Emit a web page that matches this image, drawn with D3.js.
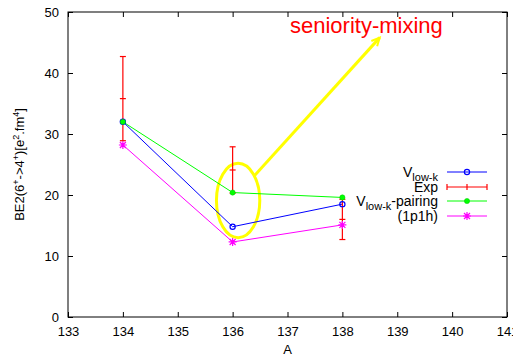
<!DOCTYPE html>
<html>
<head>
<meta charset="utf-8">
<script src="https://d3js.org/d3.v7.min.js"></script>
<style>
  body { margin: 0; background: #fff; }
  text { font-family: "Liberation Sans", Arial, sans-serif; }
</style>
</head>
<body>
<script>
  var W = 513, H = 360;
  var m = {left: 68, right: 6, top: 12, bottom: 43};

  // data
  var A = [134, 136, 138];
  var vlowk = [32.0, 14.8, 18.5];
  var pairing = [32.0, 20.4, 19.6];
  var p1h = [28.2, 12.3, 15.1];
  var expVal = [35.8, 24.1, 16.0];
  var expErr = [6.9, 3.8, 3.3];
  var xTicks = [133, 134, 135, 136, 137, 138, 139, 140, 141];
  var yTicks = [0, 10, 20, 30, 40, 50];

  var svg = d3.select("body").append("svg")
    .attr("width", W).attr("height", H);

  var x = d3.scaleLinear().domain([133, 141]).range([m.left, W - m.right]);
  var y = d3.scaleLinear().domain([0, 50]).range([H - m.bottom, m.top]);

  // ticks (inward on all sides)
  var tl = 5;
  svg.append("g").attr("transform", "translate(0," + y(0) + ")")
    .call(d3.axisBottom(x).tickValues(xTicks).tickSizeInner(-tl).tickSizeOuter(0).tickPadding(10))
    .call(function(g) { g.select(".domain").remove(); });
  svg.append("g").attr("transform", "translate(0," + y(50) + ")")
    .call(d3.axisTop(x).tickValues(xTicks).tickSizeInner(-tl).tickSizeOuter(0).tickFormat(""))
    .call(function(g) { g.select(".domain").remove(); });
  svg.append("g").attr("transform", "translate(" + x(133) + ",0)")
    .call(d3.axisLeft(y).tickValues(yTicks).tickSizeInner(-tl).tickSizeOuter(0).tickPadding(9))
    .call(function(g) { g.select(".domain").remove(); });
  svg.append("g").attr("transform", "translate(" + x(141) + ",0)")
    .call(d3.axisRight(y).tickValues(yTicks).tickSizeInner(-tl).tickSizeOuter(0).tickFormat(""))
    .call(function(g) { g.select(".domain").remove(); });
  svg.selectAll(".tick text").attr("font-size", 13).attr("fill", "#000")
    .style("font-family", "Liberation Sans, Arial, sans-serif");
  svg.selectAll(".tick line").attr("stroke", "#000");

  svg.append("rect")
    .attr("x", x(133)).attr("y", y(50))
    .attr("width", x(141) - x(133)).attr("height", y(0) - y(50))
    .attr("fill", "none").attr("stroke", "#000").attr("stroke-width", 1);

  // axis titles
  svg.append("text").attr("x", (x(133) + x(141)) / 2).attr("y", 354)
    .attr("text-anchor", "middle").attr("font-size", 13).text("A");
  var yl = svg.append("text")
    .attr("transform", "translate(24," + y(25) + ") rotate(-90)")
    .attr("text-anchor", "middle").attr("font-size", 13);
  yl.append("tspan").text("BE2(6");
  yl.append("tspan").attr("dy", -5).attr("font-size", 9).text("+");
  yl.append("tspan").attr("dy", 5).text("->4");
  yl.append("tspan").attr("dy", -5).attr("font-size", 9).text("+");
  yl.append("tspan").attr("dy", 5).text(")[e");
  yl.append("tspan").attr("dy", -5).attr("font-size", 9).text("2");
  yl.append("tspan").attr("dy", 5).text(".fm");
  yl.append("tspan").attr("dy", -5).attr("font-size", 9).text("4");
  yl.append("tspan").attr("dy", 5).text("]");

  function pts(vals) { return A.map(function(a, i) { return [a, vals[i]]; }); }
  var line = d3.line().x(function(d) { return x(d[0]); }).y(function(d) { return y(d[1]); });

  function star(g, cx, cy, r, col) {
    var p = "M" + (cx - r) + "," + cy + "H" + (cx + r) + "M" + cx + "," + (cy - r) + "V" + (cy + r) +
      "M" + (cx - r * 0.75) + "," + (cy - r * 0.75) + "L" + (cx + r * 0.75) + "," + (cy + r * 0.75) +
      "M" + (cx - r * 0.75) + "," + (cy + r * 0.75) + "L" + (cx + r * 0.75) + "," + (cy - r * 0.75);
    g.append("path").attr("d", p).attr("stroke", col).attr("stroke-width", 1.2).attr("fill", "none");
  }

  // yellow annotation
  svg.append("ellipse")
    .attr("cx", x(136.1)).attr("cy", y(19.1))
    .attr("rx", x(136.1) - x(135.705)).attr("ry", y(13.0) - y(19.1))
    .attr("fill", "none").attr("stroke", "#ffff00").attr("stroke-width", 3);
  var ax0 = x(136.4), ay0 = y(23.2), ax1 = x(138.68), ay1 = y(45.8);
  svg.append("line").attr("x1", ax0).attr("y1", ay0).attr("x2", ax1).attr("y2", ay1)
    .attr("stroke", "#ffff00").attr("stroke-width", 3);
  var ang = Math.atan2(ay1 - ay0, ax1 - ax0);
  var hl = 9, hw = 0.45;
  svg.append("path")
    .attr("d", "M" + (ax1 - hl * Math.cos(ang - hw)) + "," + (ay1 - hl * Math.sin(ang - hw)) +
      "L" + ax1 + "," + ay1 + "L" + (ax1 - hl * Math.cos(ang + hw)) + "," + (ay1 - hl * Math.sin(ang + hw)))
    .attr("stroke", "#ffff00").attr("stroke-width", 2).attr("fill", "none");

  svg.append("text").attr("x", 290).attr("y", 33)
    .attr("font-size", 22).attr("fill", "#ff0000").text("seniority-mixing");

  // series lines
  svg.append("path").datum(pts(pairing)).attr("d", line)
    .attr("fill", "none").attr("stroke", "#00ff00").attr("stroke-width", 1);
  svg.append("path").datum(pts(vlowk)).attr("d", line)
    .attr("fill", "none").attr("stroke", "#0000ff").attr("stroke-width", 1);
  svg.append("path").datum(pts(p1h)).attr("d", line)
    .attr("fill", "none").attr("stroke", "#ff00ff").attr("stroke-width", 1);

  // exp error bars
  var eg = svg.append("g").attr("stroke", "#ff0000").attr("stroke-width", 1.2);
  A.forEach(function(a, i) {
    var cx = x(a), lo = y(expVal[i] - expErr[i]), hi = y(expVal[i] + expErr[i]), c = y(expVal[i]);
    eg.append("line").attr("x1", cx).attr("x2", cx).attr("y1", lo).attr("y2", hi);
    eg.append("line").attr("x1", cx - 3).attr("x2", cx + 3).attr("y1", lo).attr("y2", lo);
    eg.append("line").attr("x1", cx - 3).attr("x2", cx + 3).attr("y1", hi).attr("y2", hi);
    eg.append("line").attr("x1", cx - 3).attr("x2", cx + 3).attr("y1", c).attr("y2", c);
  });

  // markers
  svg.selectAll(".bc").data(pts(vlowk)).enter().append("circle")
    .attr("cx", function(d) { return x(d[0]); }).attr("cy", function(d) { return y(d[1]); })
    .attr("r", 2.6).attr("fill", "none").attr("stroke", "#0000ff").attr("stroke-width", 1.2);
  svg.selectAll(".gc").data(pts(pairing)).enter().append("circle")
    .attr("cx", function(d) { return x(d[0]); }).attr("cy", function(d) { return y(d[1]); })
    .attr("r", 2.6).attr("fill", "#00ff00").attr("stroke", "#00cc00").attr("stroke-width", 0.5);
  pts(p1h).forEach(function(d) { star(svg, x(d[0]), y(d[1]), 4, "#ff00ff"); });

  // legend
  var lg = svg.append("g");
  var lx0 = 447, lx1 = 487, tx = 438;
  var rows = [172, 187, 201, 216];
  function ltext(yy) {
    return lg.append("text").attr("x", tx).attr("y", yy + 5).attr("text-anchor", "end").attr("font-size", 14);
  }
  var t0 = ltext(rows[0]);
  t0.append("tspan").text("V");
  t0.append("tspan").attr("dy", 4).attr("font-size", 11).text("low-k");
  lg.append("line").attr("x1", lx0).attr("x2", lx1).attr("y1", rows[0]).attr("y2", rows[0])
    .attr("stroke", "#0000ff");
  lg.append("circle").attr("cx", (lx0 + lx1) / 2).attr("cy", rows[0]).attr("r", 2.6)
    .attr("fill", "none").attr("stroke", "#0000ff").attr("stroke-width", 1.2);

  ltext(rows[1]).text("Exp");
  var le = lg.append("g").attr("stroke", "#ff0000").attr("stroke-width", 1.2);
  le.append("line").attr("x1", lx0).attr("x2", lx1).attr("y1", rows[1]).attr("y2", rows[1]);
  [lx0, lx1].forEach(function(xx) {
    le.append("line").attr("x1", xx).attr("x2", xx).attr("y1", rows[1] - 3).attr("y2", rows[1] + 3);
  });
  le.append("line").attr("x1", (lx0 + lx1) / 2).attr("x2", (lx0 + lx1) / 2)
    .attr("y1", rows[1] - 3).attr("y2", rows[1] + 3);

  var t2 = ltext(rows[2]);
  t2.append("tspan").text("V");
  t2.append("tspan").attr("dy", 4).attr("font-size", 11).text("low-k");
  t2.append("tspan").attr("dy", -4).text("-pairing");
  lg.append("line").attr("x1", lx0).attr("x2", lx1).attr("y1", rows[2]).attr("y2", rows[2])
    .attr("stroke", "#00ff00");
  lg.append("circle").attr("cx", (lx0 + lx1) / 2).attr("cy", rows[2]).attr("r", 2.6)
    .attr("fill", "#00ff00").attr("stroke", "#00cc00").attr("stroke-width", 0.5);

  ltext(rows[3]).text("(1p1h)");
  lg.append("line").attr("x1", lx0).attr("x2", lx1).attr("y1", rows[3]).attr("y2", rows[3])
    .attr("stroke", "#ff00ff");
  star(lg, (lx0 + lx1) / 2, rows[3], 4, "#ff00ff");
</script>
</body>
</html>
